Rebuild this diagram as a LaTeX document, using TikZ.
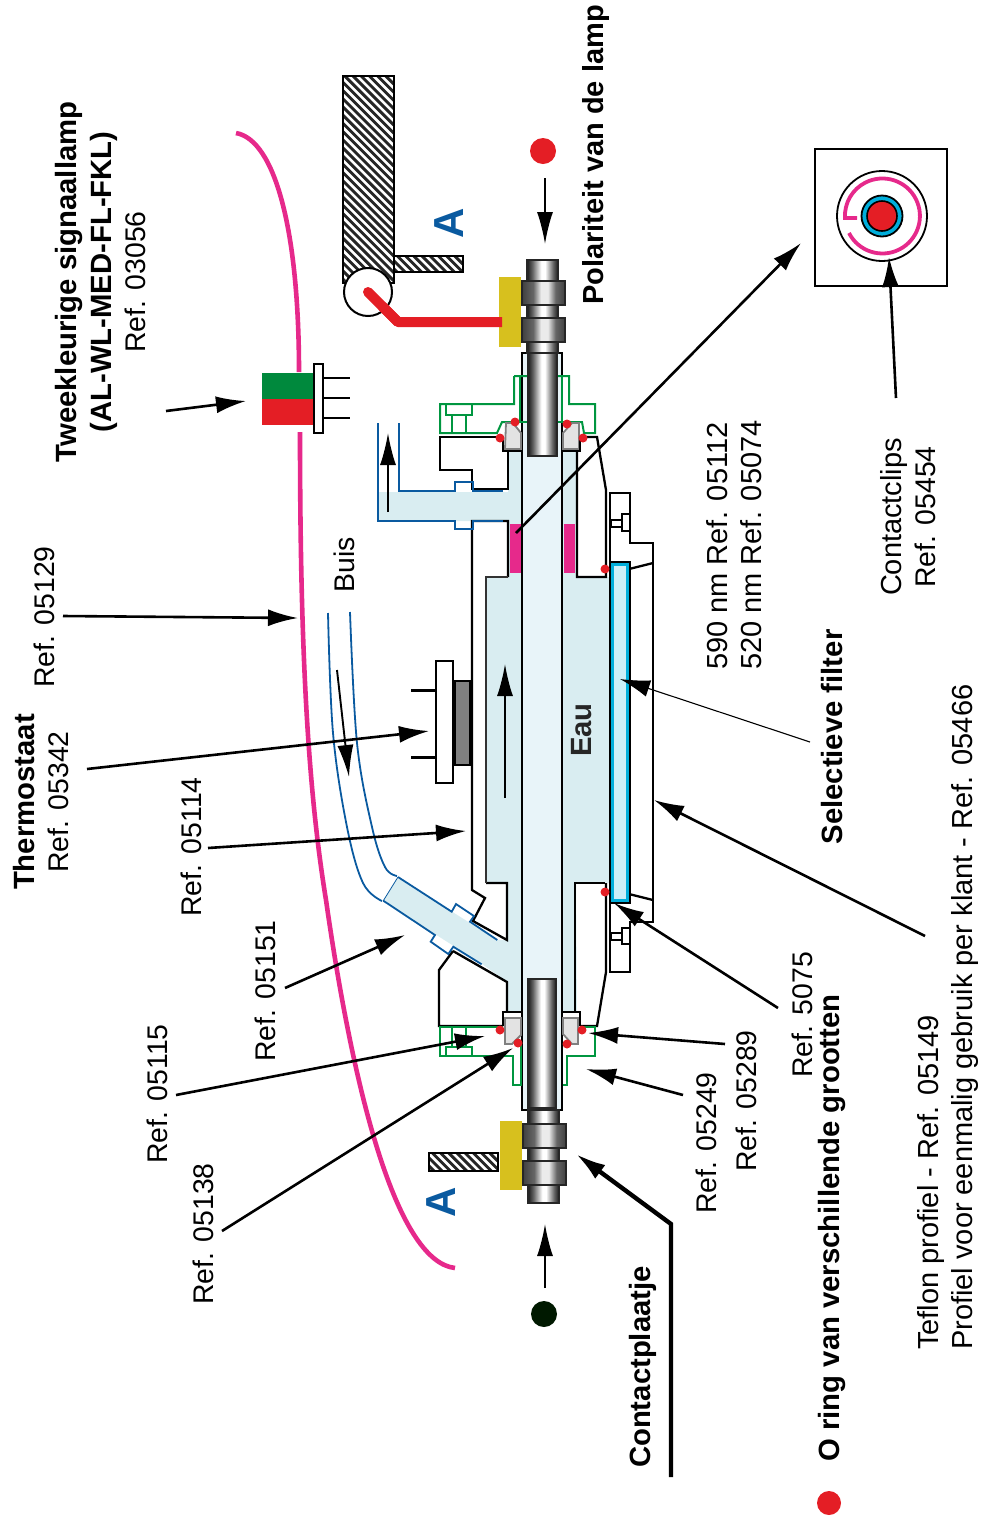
\documentclass[tikz,border=0pt]{standalone}
\usepackage{fontspec}
\setmainfont{Liberation Sans}
\usetikzlibrary{arrows.meta}
\definecolor{water}{HTML}{D9EDF1}
\definecolor{glass}{HTML}{E8F4F9}
\definecolor{pinkline}{HTML}{E6298B}
\definecolor{ledred}{HTML}{E41E25}
\definecolor{ledgreen}{HTML}{00893D}
\definecolor{seal}{HTML}{009640}
\definecolor{pipe}{HTML}{0A5AA0}
\definecolor{plate}{HTML}{D7C01E}
\definecolor{filterblue}{HTML}{00AEDB}
\pgfdeclarehorizontalshading{pinmetal}{100bp}{color(0bp)=(black!90); color(25bp)=(black!90); color(34bp)=(black!60); color(48bp)=(white); color(54bp)=(white); color(67bp)=(black!60); color(75bp)=(black!90); color(100bp)=(black!90)}
\pgfdeclarehorizontalshading{nutmetal}{100bp}{color(0bp)=(black!75); color(25bp)=(black!75); color(38bp)=(black!60); color(47bp)=(black!8); color(55bp)=(black!8); color(64bp)=(black!60); color(75bp)=(black!75); color(100bp)=(black!75)}
% striped block: left, top, right, bottom (top and bottom as positive distances from the top edge)
\newcommand{\hatchbox}[4]{%
 \pgfmathsetmacro{\hatchfirst}{#2-(#3-#1)}
 \pgfmathsetmacro{\hatchnext}{\hatchfirst+8.2}
 \begin{scope}
 \clip (#1,-#2) rectangle (#3,-#4);
 \foreach \c in {\hatchfirst,\hatchnext,...,#4} \draw[line width=2.9pt, draw=black!85] (#1,-\c) -- (#3,{-\c-(#3-#1)});
 \end{scope}
 \draw[line width=2.2pt] (#1,-#2) rectangle (#3,-#4);
}
\begin{document}
\begin{tikzpicture}[x=1pt,y=1pt]
\tikzset{
 reflabel/.style={font=\fontsize{28.4}{34.5}\selectfont, rotate=90, inner sep=0pt, align=center},
 longlabel/.style={reflabel, font=\fontsize{29}{34.5}\selectfont},
 boldlabel/.style={reflabel, font=\fontsize{29.3}{34.5}\selectfont\bfseries},
 sectionlabel/.style={rotate=90, inner sep=0pt, text=pipe, font=\fontsize{42}{42}\selectfont\bfseries},
 leader/.style={line width=2.6pt, -{Latex[length=30pt,width=17pt]}},
 thinleader/.style={line width=1.1pt, -{Latex[length=30pt,width=17pt]}},
 flow/.style={line width=1.9pt, -{Latex[length=32pt,width=16pt]}},
 body/.style={line width=2.3pt, line join=miter},
 pin/.style={draw=black!85, line width=2pt, shading=pinmetal},
 nut/.style={draw=black!85, line width=2pt, shading=nutmetal},
 ringseal/.style={draw=black!50, line width=1.8pt, fill=black!11},
 greenline/.style={draw=seal, line width=2pt},
 blueline/.style={draw=pipe, line width=1.8pt},
 reddot/.style={fill=ledred},
}
\useasboundingbox (0,0) rectangle (984,-1519);

% water jacket
\fill[water] (508,-452) -- (508,-492) -- (378,-492) -- (378,-521) -- (508,-521) -- (508,-577) -- (486,-577) -- (486,-883) -- (507,-883) -- (507,-940) -- (497,-940) -- (451,-911) -- (398,-877) -- (383,-901) -- (482,-964) -- (507,-982) -- (507,-1012) -- (577,-1012) -- (576,-883) -- (609,-883) -- (609,-577) -- (577,-577) -- (577,-452) -- cycle;
\fill[pinkline] (510,-524) rectangle (521,-573);
\fill[pinkline] (564,-524) rectangle (575,-573);
\draw[body, fill=glass] (522,-353) rectangle (562,-1110);

% lamp housing
\draw[body] (503,-437) -- (440,-437) -- (440,-470) -- (472,-470) -- (472,-489) -- (508,-489) -- (508,-451);
\draw[body] (508,-577) -- (508,-521) -- (472,-521) -- (472,-890) -- (485,-898) -- (473,-921) -- (507,-940) -- (507,-883) -- (486,-883);
\draw[line width=1.5pt, draw=black!80] (486,-883) -- (486,-577) -- (508,-577);
\draw[body] (453,-951) -- (439,-970) -- (439,-1026) -- (503,-1026);
\draw[body] (453,-951) -- (507,-982) -- (507,-1012);
\draw[body] (577,-451) -- (577,-577) -- (606,-577) -- (606,-490) -- (597,-437) -- (583,-437);
\draw[body] (605,-883) -- (575,-883) -- (575,-1012);
\draw[body] (580,-1026) -- (597,-1026) -- (606,-972) -- (606,-883);
\draw[body] (610,-972) -- (610,-493) -- (630,-493) -- (630,-543) -- (653,-543) -- (653,-922) -- (630,-922) -- (630,-972) -- cycle;
\draw[body] (629,-569) -- (653,-563);
\draw[body] (629,-894) -- (653,-900);
\draw[body] (622,-514) rectangle (630,-531);
\draw[line width=1.5pt] (611,-520) rectangle (622,-527);
\draw[body] (622,-928) rectangle (630,-944);
\draw[line width=1.5pt] (611,-933) rectangle (622,-940);

% filter
\draw[body, fill=white] (610,-562) rectangle (630,-903);
\draw[draw=filterblue, line width=2.4pt, fill=filterblue!20] (612.5,-564.5) rectangle (627.5,-900.5);

% outlet and inlet pipes
\draw[blueline] (378,-423) -- (378,-521) -- (455,-521) -- (455,-529) -- (473,-529) -- (473,-521) -- (503,-521);
\draw[blueline] (399,-423) -- (399,-491) -- (455,-491) -- (455,-482) -- (473,-482) -- (473,-491) -- (503,-491);
\draw[blueline] plot[smooth, tension=0.6] coordinates {(328,-613) (333,-733) (347,-827) (363,-883) (382,-901)};
\draw[blueline] plot[smooth, tension=0.6] coordinates {(350,-612) (357,-743) (372,-827) (385,-867) (397,-876)};
\draw[blueline] (398,-877) -- (451.7,-911.7) -- (456,-904) -- (474,-916) -- (470,-921.7) -- (497.3,-940);
\draw[blueline] (383.3,-900.7) -- (435,-935) -- (430.7,-941.7) -- (448.3,-954) -- (453.3,-946.7) -- (481.7,-964.3);
\draw[line width=.8pt, draw=pipe] (398,-877) -- (383.3,-900.7);

% green profile
\draw[greenline] (514,-376) -- (514,-404) -- (440,-404) -- (440,-433) -- (497,-433) -- (502,-422) -- (520,-422);
\draw[greenline] (520,-376) rectangle (562,-422);
\draw[greenline] (514,-376) -- (569,-376) -- (569,-404) -- (595,-404) -- (595,-433) -- (584,-433) -- (582,-422) -- (562,-422);
\draw[greenline] (446,-404) rectangle (472,-415);
\draw[greenline] (452,-415) -- (452,-433);
\draw[greenline] (466,-415) -- (466,-433);
\draw[greenline] (503,-1027) -- (440,-1027) -- (440,-1056) -- (513,-1056) -- (513,-1085) -- (521,-1085) -- (521,-1045);
\draw[greenline] (580,-1027) -- (595,-1027) -- (595,-1056) -- (567,-1056) -- (567,-1085) -- (563,-1085);
\draw[greenline] (446,-1056) -- (446,-1047) -- (472,-1047) -- (472,-1056);
\draw[greenline] (452,-1027) -- (452,-1047);
\draw[greenline] (466,-1027) -- (466,-1047);

% seals
\draw[ringseal] (506,-423) -- (513,-423) -- (521,-433) -- (521,-449) -- (505,-449) -- cycle;
\draw[ringseal] (579,-423) -- (572,-423) -- (563,-433) -- (563,-449) -- (579,-449) -- cycle;
\draw[body] (503,-437) -- (503,-451) -- (521,-451);
\draw[body] (580,-437) -- (580,-451) -- (563,-451);
\draw[ringseal] (505,-1018) -- (521,-1018) -- (521,-1035) -- (512,-1044) -- (505,-1044) -- cycle;
\draw[ringseal] (563,-1018) -- (578,-1018) -- (578,-1044) -- (572,-1044) -- (563,-1034) -- cycle;
\draw[body] (503,-1026) -- (503,-1012) -- (521,-1012);
\draw[body] (580,-1026) -- (580,-1012) -- (563,-1012);
\fill[reddot] (515,-422) circle (4.5);
\fill[reddot] (500,-438) circle (4.5);
\fill[reddot] (567,-424) circle (4.5);
\fill[reddot] (583,-438) circle (4.5);
\fill[reddot] (500,-1030) circle (4.5);
\fill[reddot] (518,-1043) circle (4.5);
\fill[reddot] (582,-1030) circle (4.5);
\fill[reddot] (567,-1044) circle (4.5);
\fill[reddot] (605,-569) circle (4.5);
\fill[reddot] (605,-892) circle (4.5);

% pins and nuts
\shade[pin] (528,-353) rectangle (557,-456);
\shade[pin] (527,-260) rectangle (558,-353);
\shade[nut] (522,-281) rectangle (565,-305);
\shade[nut] (522,-318) rectangle (565,-342);
\shade[pin] (528,-979) rectangle (556,-1108);
\shade[pin] (528,-1110) rectangle (559,-1203);
\shade[nut] (523,-1124) rectangle (566,-1148);
\shade[nut] (523,-1161) rectangle (566,-1185);
\fill[plate] (499,-277) rectangle (521,-347);
\fill[plate] (500,-1121) rectangle (522,-1190);

% lever and bracket
\hatchbox{343}{76}{394}{283}
\hatchbox{394}{256}{463}{272}
\hatchbox{429}{1153}{498}{1171}
\draw[line width=2pt, fill=white] (368,-292) circle (24);
\draw[draw=ledred, line width=10pt, line cap=round] (368,-292) -- (398,-322);
\draw[draw=ledred, line width=10pt, line join=round] (382,-306) -- (398,-322) -- (502,-322);

% cable and lamp
\draw[draw=pinkline, line width=4.6pt] (236,-133) .. controls (275,-140) and (299,-230) .. (299,-372);
\draw[draw=pinkline, line width=4.6pt] (300,-432) .. controls (300,-650) and (308,-790) .. (326,-900) .. controls (356,-1110) and (400,-1262) .. (455,-1268);
\fill[ledgreen] (262,-373) rectangle (314,-399);
\fill[ledred] (262,-399) rectangle (314,-425);
\draw[line width=2pt, fill=white] (314,-364) rectangle (323,-433);
\draw[line width=1.8pt] (323,-378) -- (350,-378);
\draw[line width=1.8pt] (323,-398) -- (350,-398);
\draw[line width=1.8pt] (323,-418) -- (350,-418);

% thermostat
\draw[line width=2pt, fill=white] (436,-661) rectangle (453,-783);
\draw[line width=2pt, fill=black!50] (455,-681) rectangle (470,-765);
\draw[line width=3pt] (411,-690) -- (436,-690);
\draw[line width=3pt] (411,-757) -- (436,-757);

% end view
\draw[line width=2.2pt] (815,-149) rectangle (947,-286);
\draw[line width=1.8pt] (882,-216) circle (45);
\draw[draw=pinkline, line width=3.8pt] (849,-233) arc (207:543:37.5) -- (857,-218);
\draw[line width=1.8pt, fill=filterblue] (882,-216) circle (20.5);
\draw[line width=1.6pt, fill=ledred] (882,-216) circle (15);

% polarity
\fill[ledred] (543,-151) circle (13);
\fill[black!90!green] (544,-1314) circle (13);
\coordinate (plusstart) at (545,-178);
\coordinate (plusend) at (545,-244);
\coordinate (minstart) at (545,-1288);
\coordinate (minend) at (545,-1224);
\draw[flow] (plusstart) -- (plusend);
\draw[flow] (minstart) -- (minend);

% flow arrows
\coordinate (jacketstart) at (505,-798);
\coordinate (jacketend) at (505,-664);
\coordinate (outstart) at (388,-512);
\coordinate (outend) at (388,-433);
\coordinate (instart) at (337,-670);
\coordinate (inend) at (349,-777);
\draw[flow] (jacketstart) -- (jacketend);
\draw[flow] (outstart) -- (outend);
\draw[flow] (instart) -- (inend);

% labels
\node[reflabel] (lamp) at (101,-282) {{\bfseries\fontsize{29.3}{34.5}\selectfont Tweekleurige signaallamp}\\{\bfseries\fontsize{29.3}{34.5}\selectfont (AL-WL-MED-FL-FKL)}\\Ref. 03056};
\node[boldlabel, font=\fontsize{29}{34.5}\selectfont\bfseries] (polarity) at (596,-155) {Polariteit van de lamp};
\node[sectionlabel] (secta) at (449,-223) {A};
\node[sectionlabel] (sectb) at (441,-1202) {A};
\node[reflabel] (buis) at (344,-565) {Buis};
\node[reflabel] (r05129) at (44,-617) {Ref. 05129};
\node[reflabel] (thermo) at (41,-802) {{\bfseries\fontsize{29.3}{34.5}\selectfont Thermostaat}\\Ref. 05342};
\node[reflabel] (r05114) at (191,-847) {Ref. 05114};
\node[reflabel] (r05151) at (265,-991) {Ref. 05151};
\node[reflabel] (r05115) at (157,-1094) {Ref. 05115};
\node[reflabel] (r05138) at (203,-1234) {Ref. 05138};
\node[boldlabel] (plaatje) at (643,-1367) {Contactplaatje};
\node[boldlabel] (oring) at (832,-1228) {O ring van verschillende grootten};
\fill[ledred] (829,-1503) circle (12);
\node[reflabel] (r05249) at (706,-1143) {Ref. 05249};
\node[reflabel] (r05289) at (746,-1101) {Ref. 05289};
\node[reflabel] (r5075) at (802,-1015) {Ref. 5075};
\node[longlabel, align=left, anchor=west] (teflon) at (948,-1350) {Teflon profiel - Ref. 05149\\Profiel voor eenmalig gebruik per klant - Ref. 05466};
\node[longlabel, align=left, anchor=west] (nm) at (734,-670) {590 nm Ref. 05112\\520 nm Ref. 05074};
\node[boldlabel] (selectief) at (832,-737) {Selectieve filter};
\node[reflabel] (clips) at (908,-517) {{\fontsize{29}{34.5}\selectfont Contactclips}\\Ref. 05454};
\node[boldlabel, text=black!85] (eau) at (582,-730) {Eau};

% leaders
\coordinate (lampstart) at (166,-411);
\coordinate (lampend) at (246,-401);
\coordinate (cablestart) at (63,-616);
\coordinate (cableend) at (298,-618);
\coordinate (thermostart) at (87,-769);
\coordinate (thermoend) at (429,-731);
\coordinate (housestart) at (208,-848);
\coordinate (houseend) at (466,-831);
\coordinate (pipestart) at (285,-988);
\coordinate (pipeend) at (405,-935);
\coordinate (orstart) at (176,-1095);
\coordinate (orend) at (485,-1036);
\coordinate (oostart) at (222,-1231);
\coordinate (ooend) at (513,-1048);
\coordinate (ogstart) at (725,-1044);
\coordinate (ogend) at (588,-1033);
\coordinate (obstart) at (683,-1095);
\coordinate (obend) at (586,-1069);
\coordinate (platestart) at (671,-1477);
\coordinate (platebend) at (671,-1224);
\coordinate (plateend) at (576,-1154);
\coordinate (fivestart) at (778,-1008);
\coordinate (fiveend) at (614,-903);
\coordinate (teflonstart) at (925,-936);
\coordinate (teflonend) at (654,-800);
\coordinate (filterstart) at (810,-742);
\coordinate (filterend) at (620,-679);
\coordinate (viewstart) at (516,-533);
\coordinate (viewend) at (801,-243);
\coordinate (clipstart) at (896,-398);
\coordinate (clipend) at (889,-257);
\draw[leader] (lampstart) -- (lampend);
\draw[leader] (cablestart) -- (cableend);
\draw[leader] (thermostart) -- (thermoend);
\draw[leader] (housestart) -- (houseend);
\draw[leader] (pipestart) -- (pipeend);
\draw[leader] (orstart) -- (orend);
\draw[leader] (oostart) -- (ooend);
\draw[leader] (ogstart) -- (ogend);
\draw[leader] (obstart) -- (obend);
\draw[leader, line width=4.4pt, line join=miter] (platestart) -- (platebend) -- (plateend);
\draw[leader] (fivestart) -- (fiveend);
\draw[leader] (teflonstart) -- (teflonend);
\draw[thinleader] (filterstart) -- (filterend);
\draw[leader] (viewstart) -- (viewend);
\draw[leader] (clipstart) -- (clipend);
\end{tikzpicture}
\end{document}
